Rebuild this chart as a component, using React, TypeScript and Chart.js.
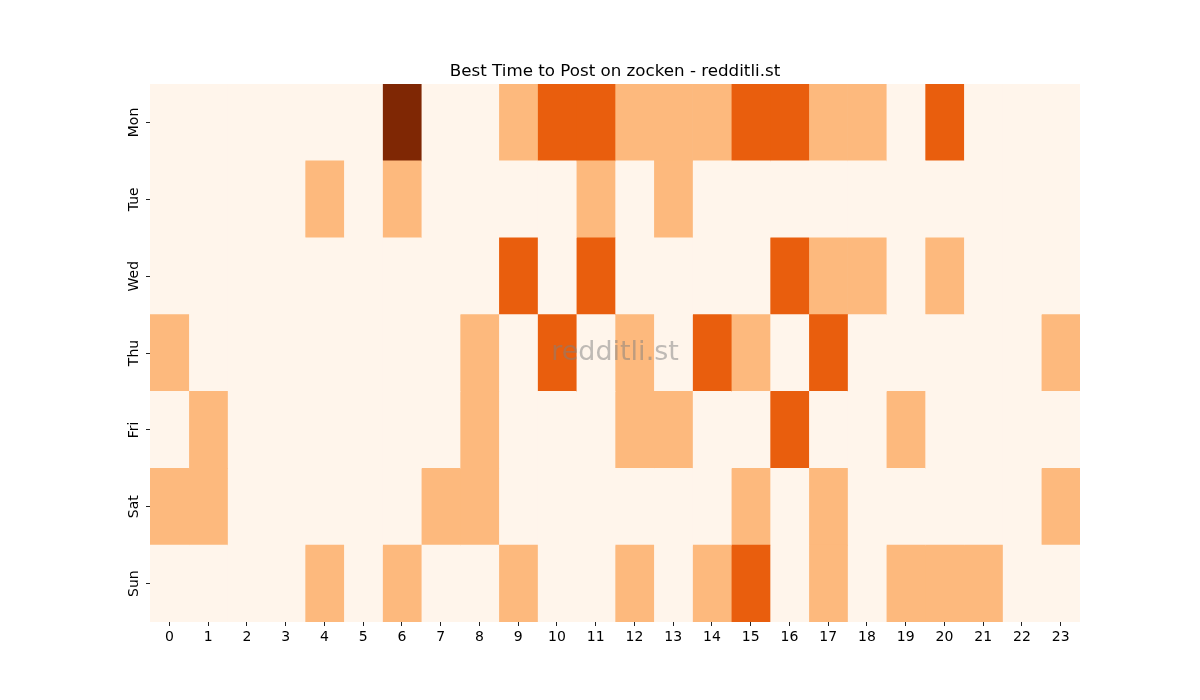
import { useEffect, useRef } from "react";
import { Chart, registerables, ChartConfiguration, Plugin } from "chart.js";

Chart.register(...registerables);

// days of the week (rows, top to bottom)
const days = ["Mon", "Tue", "Wed", "Thu", "Fri", "Sat", "Sun"];
// hours of the day (columns)
const hours = Array.from({ length: 24 }, (_, i) => i);

// activity level per hour (0..3)
const mon = [0, 0, 0, 0, 0, 0, 3, 0, 0, 1, 2, 2, 1, 1, 1, 2, 2, 1, 1, 0, 2, 0, 0, 0];
const tue = [0, 0, 0, 0, 1, 0, 1, 0, 0, 0, 0, 1, 0, 1, 0, 0, 0, 0, 0, 0, 0, 0, 0, 0];
const wed = [0, 0, 0, 0, 0, 0, 0, 0, 0, 2, 0, 2, 0, 0, 0, 0, 2, 1, 1, 0, 1, 0, 0, 0];
const thu = [1, 0, 0, 0, 0, 0, 0, 0, 1, 0, 2, 0, 1, 0, 2, 1, 0, 2, 0, 0, 0, 0, 0, 1];
const fri = [0, 1, 0, 0, 0, 0, 0, 0, 1, 0, 0, 0, 1, 1, 0, 0, 2, 0, 0, 1, 0, 0, 0, 0];
const sat = [1, 1, 0, 0, 0, 0, 0, 1, 1, 0, 0, 0, 0, 0, 0, 1, 0, 1, 0, 0, 0, 0, 0, 1];
const sun = [0, 0, 0, 0, 1, 0, 1, 0, 0, 1, 0, 0, 1, 0, 1, 2, 0, 1, 0, 1, 1, 1, 0, 0];

const grid = [mon, tue, wed, thu, fri, sat, sun];

// Oranges colormap, sampled at 0, 1/3, 2/3, 1
const palette = ["#fff5eb", "#fdb97d", "#e95e0d", "#7f2704"];

const watermark: Plugin<"bar"> = {
  id: "watermark",
  afterDatasetsDraw(chart) {
    const { ctx, chartArea } = chart;
    ctx.save();
    ctx.font = '27px "DejaVu Sans"';
    ctx.fillStyle = "rgba(128, 128, 128, 0.5)";
    ctx.textAlign = "center";
    ctx.textBaseline = "middle";
    ctx.fillText(
      "redditli.st",
      (chartArea.left + chartArea.right) / 2,
      (chartArea.top + chartArea.bottom) / 2
    );
    ctx.restore();
  },
};

const Heatmap = () => {
  const chartRef = useRef<HTMLCanvasElement>(null);

  useEffect(() => {
    const ctx = chartRef.current?.getContext("2d");
    if (!ctx) return;

    Chart.defaults.font.family = '"DejaVu Sans", sans-serif';
    Chart.defaults.color = "#000";

    // one stacked dataset per hour, each cell one unit wide
    const datasets = hours.map((h) => ({
      label: String(h),
      data: days.map(() => 1),
      backgroundColor: days.map((_, d) => palette[grid[d][h]]),
      borderWidth: 0,
      barPercentage: 1,
      categoryPercentage: 1,
    }));

    const config: ChartConfiguration<"bar", number[], string> = {
      type: "bar",
      data: { labels: days, datasets },
      options: {
        indexAxis: "y",
        responsive: false,
        animation: false,
        layout: { padding: { left: 110, right: 120, top: 0, bottom: 38 } },
        plugins: {
          legend: { display: false },
          tooltip: { enabled: false },
          title: {
            display: true,
            text: "Best Time to Post on zocken - redditli.st",
            fullSize: false,
            font: { size: 16.7, weight: "normal" },
            padding: { top: 62, bottom: 2 },
            color: "#000",
          },
        },
        scales: {
          x: {
            type: "linear",
            stacked: true,
            min: 0,
            max: 24,
            border: { display: false },
            grid: {
              drawOnChartArea: false,
              drawTicks: true,
              tickLength: 4,
              color: "#222",
            },
            afterBuildTicks: (scale) => {
              scale.ticks = hours.map((h) => ({ value: h + 0.5 }));
            },
            afterFit: (scale) => {
              scale.height = 40;
            },
            ticks: {
              autoSkip: false,
              maxRotation: 0,
              font: { size: 14 },
              callback: (v) => String(hours[Math.floor(Number(v))]),
            },
          },
          y: {
            type: "category",
            stacked: true,
            border: { display: false },
            grid: {
              offset: false,
              drawOnChartArea: false,
              drawTicks: true,
              tickLength: 4,
              color: "#222",
            },
            afterFit: (scale) => {
              scale.width = 40;
            },
            ticks: {
              minRotation: 90,
              maxRotation: 90,
              crossAlign: "center",
              padding: -4,
              font: { size: 14 },
            },
          },
        },
      },
      plugins: [watermark],
    };

    const chart = new Chart(ctx, config);

    return () => {
      chart.destroy();
    };
  }, []);

  return <canvas ref={chartRef} width={1200} height={700}></canvas>;
};

export default function App() {
  return (
    <div style={{ position: "fixed", left: 0, top: 0, width: 1200, height: 700, background: "#fff" }}>
      <Heatmap />
    </div>
  );
}
